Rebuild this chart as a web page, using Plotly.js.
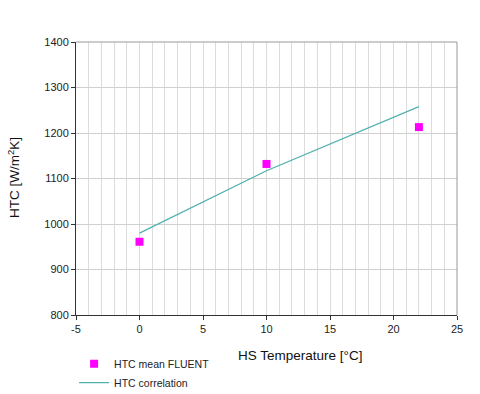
<!DOCTYPE html>
<html>
<head>
<meta charset="utf-8">
<script src="https://cdn.plot.ly/plotly-3.0.1.min.js"></script>
<style>
  html, body { margin: 0; padding: 0; background: #fff; }
  #chart { width: 480px; height: 394px; }
</style>
</head>
<body>
<div id="chart"></div>
<script>
// Datos
const tempFluent = [0, 10, 22];
const htcFluent = [961, 1132, 1213];
const tempCorr = [0, 10, 22];
const htcCorr = [980, 1117, 1258];
const xTicks = [-5, 0, 5, 10, 15, 20, 25];
const xTickText = ['-5', '0', '5', '10', '15', '20', '25'];

const traces = [
    {
        x: tempFluent,
        y: htcFluent,
        type: 'scatter',
        mode: 'markers',
        name: 'HTC mean FLUENT',
        marker: { symbol: 'square', size: 8, color: '#ff00ff' }
    },
    {
        x: tempCorr,
        y: htcCorr,
        type: 'scatter',
        mode: 'lines',
        name: 'HTC correlation',
        line: { color: '#4fb0ae', width: 1.2 }
    }
];

const layout = {
    width: 480,
    height: 394,
    paper_bgcolor: '#fff',
    plot_bgcolor: '#fff',
    font: { family: 'Liberation Sans, Arial, sans-serif', size: 11, color: '#222' },
    margin: { l: 76, r: 23, t: 42, b: 79, autoexpand: false },
    showlegend: true,
    legend: {
        x: -0.005, y: -0.125, xanchor: 'left', yanchor: 'top',
        font: { size: 10.5, color: '#222' },
        tracegroupgap: 0,
        itemwidth: 30
    },
    xaxis: {
        range: [-5, 25],
        tickvals: xTicks,
        ticktext: xTickText,
        showgrid: true,
        gridcolor: '#dcdcdc',
        minor: { dtick: 1, showgrid: true, gridcolor: '#dcdcdc', gridwidth: 1 },
        zeroline: false,
        showline: true,
        linecolor: '#333',
        linewidth: 1,
        ticks: 'outside',
        ticklen: 4,
        tickcolor: '#333'
    },
    yaxis: {
        range: [800, 1400],
        dtick: 100,
        showgrid: true,
        gridcolor: '#d0d0d0',
        zeroline: false,
        showline: true,
        linecolor: '#333',
        linewidth: 1,
        ticks: 'outside',
        ticklen: 4,
        tickcolor: '#333'
    },
    shapes: [
        { type: 'line', xref: 'paper', yref: 'paper', x0: 0, x1: 1, y0: 1, y1: 1,
          line: { color: '#999', width: 1 } },
        { type: 'line', xref: 'paper', yref: 'paper', x0: 1, x1: 1, y0: 0, y1: 1,
          line: { color: '#999', width: 1 } }
    ],
    annotations: [
        {
            text: 'HS Temperature [°C]',
            xref: 'paper', yref: 'paper',
            x: 0.588, y: -0.15,
            xanchor: 'center', yanchor: 'middle',
            showarrow: false,
            font: { size: 13.5, color: '#111' }
        },
        {
            text: 'HTC [W/m<sup>2</sup>K]',
            xref: 'paper', yref: 'paper',
            x: -0.163, y: 0.505,
            xanchor: 'center', yanchor: 'middle',
            textangle: -90,
            showarrow: false,
            font: { size: 13.5, color: '#111' }
        }
    ]
};

Plotly.newPlot('chart', traces, layout, { displayModeBar: false, responsive: false });
</script>
</body>
</html>
